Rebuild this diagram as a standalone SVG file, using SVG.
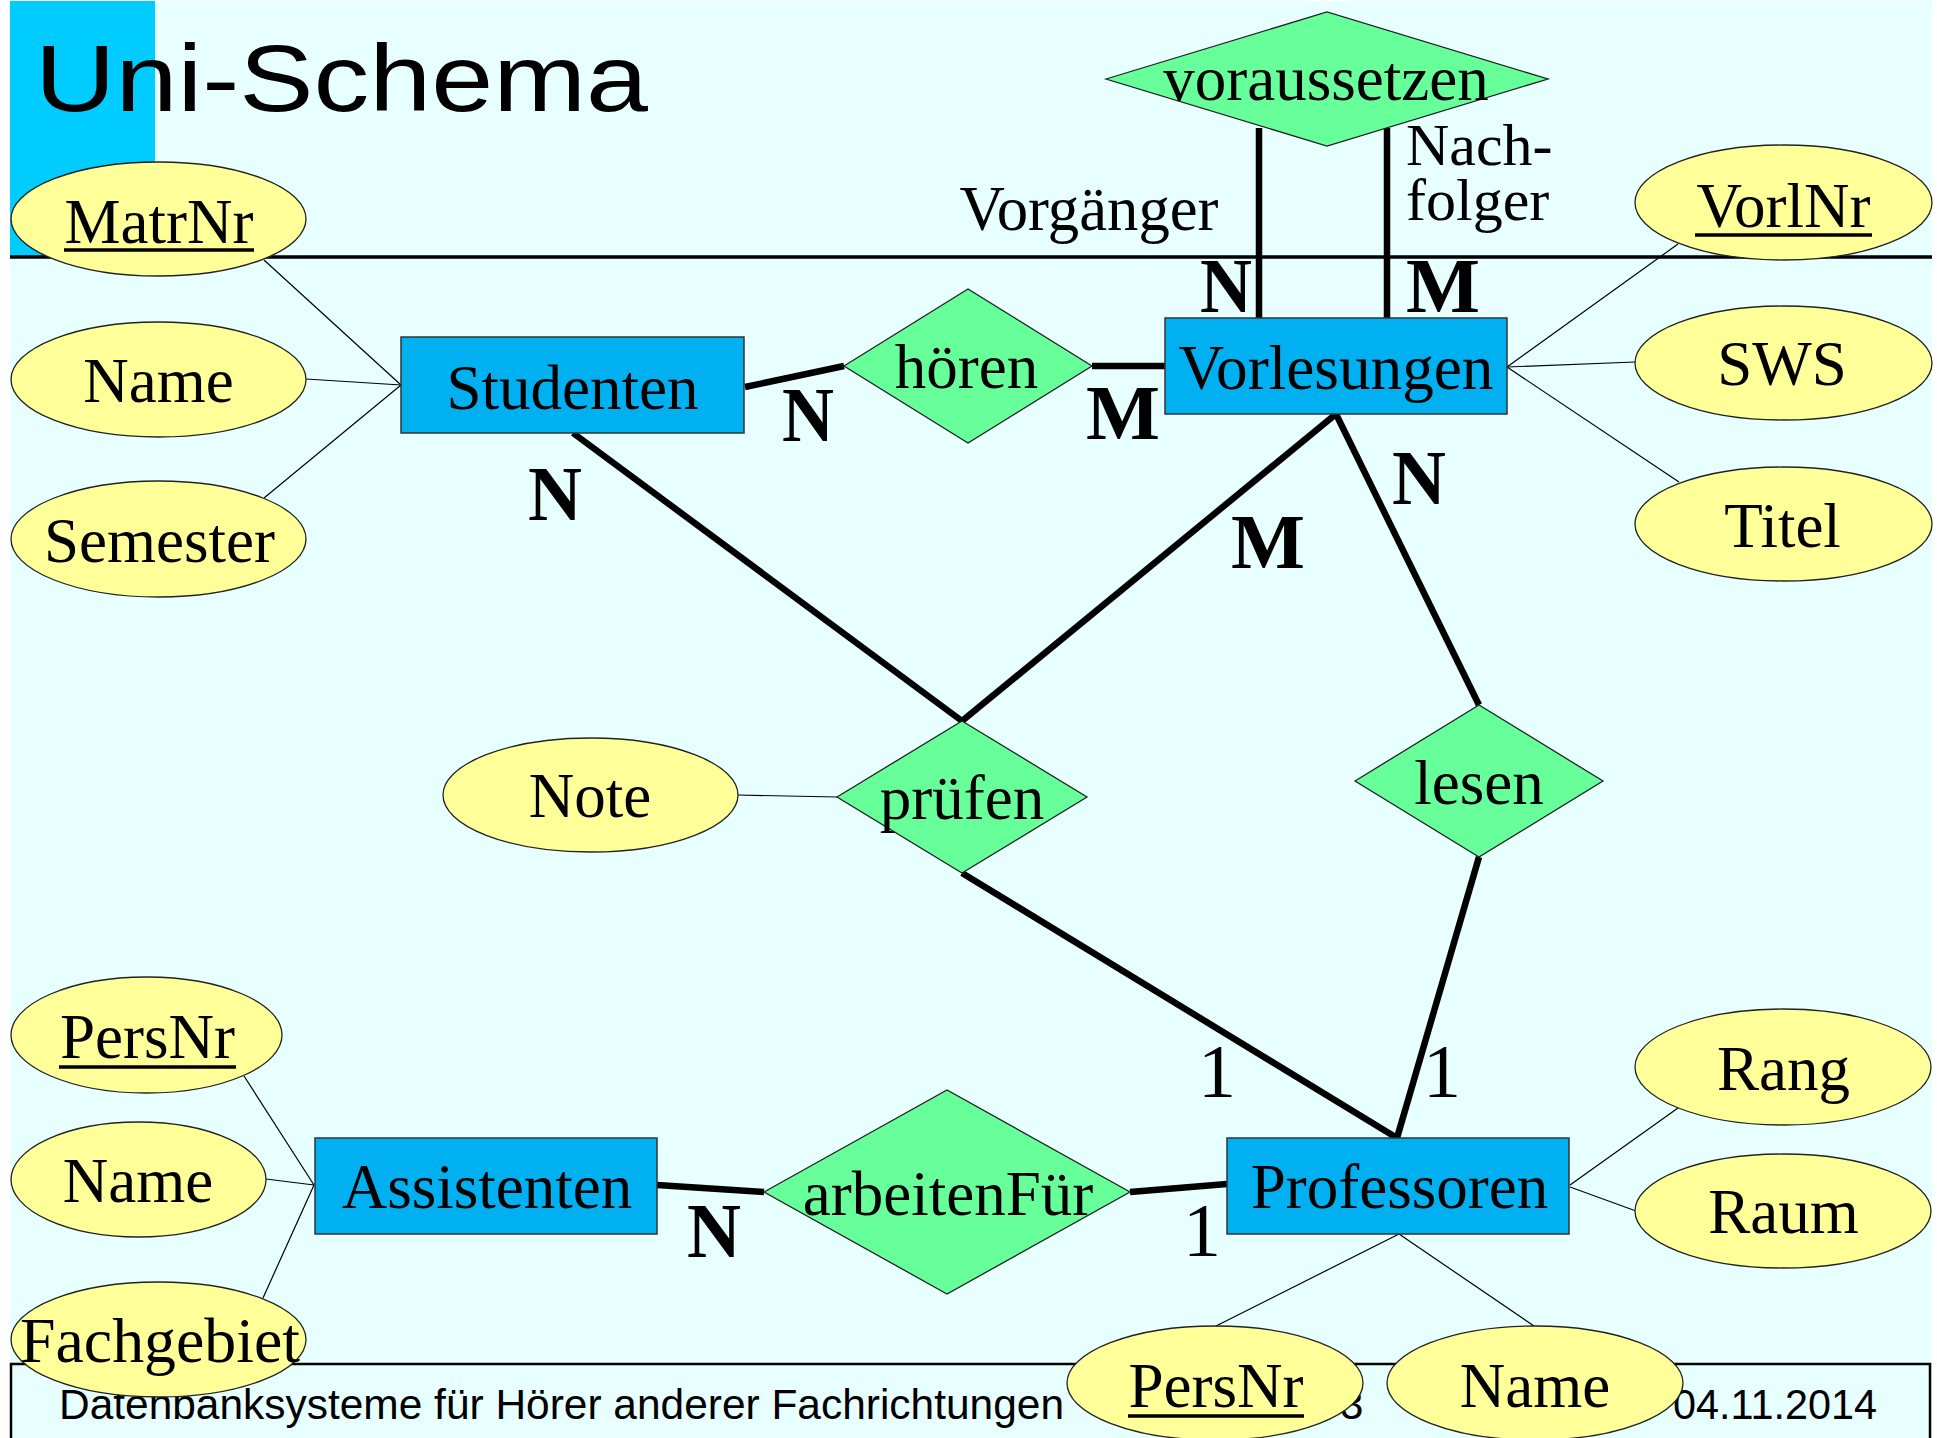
<svg xmlns="http://www.w3.org/2000/svg" width="1937" height="1438" viewBox="0 0 1937 1438">
<defs>
<style>
.ent{fill:#00B0F0;stroke:#333;stroke-width:1.5}
.rel{fill:#66FF99;stroke:#222;stroke-width:1.3}
.att{fill:#FFFF99;stroke:#222;stroke-width:1.3}
.lbl{font-family:"Liberation Serif","Times New Roman",serif;font-size:63px;fill:#000;text-anchor:middle}
.side{font-family:"Liberation Serif","Times New Roman",serif;font-size:60px;fill:#000}
.card{font-family:"Liberation Serif","Times New Roman",serif;font-size:78px;font-weight:bold;fill:#000;text-anchor:middle}
.one{font-family:"Liberation Serif","Times New Roman",serif;font-size:76px;fill:#000;text-anchor:middle}
.thin{stroke:#000;stroke-width:1.2;fill:none}
.thick{stroke:#000;stroke-width:6.5;fill:none}
.ul{stroke:#000;stroke-width:3.5}
.foot{font-family:"Liberation Sans",Arial,sans-serif;font-size:42px;fill:#000}
</style>
</defs>
<rect x="0" y="0" width="1937" height="1438" fill="#FFFFFF"/>
<rect x="10" y="1" width="1922" height="1437" fill="#E8FFFF"/>
<rect x="10" y="1" width="145" height="256" fill="#00CCFF"/>
<line x1="10" y1="257" x2="1932" y2="257" stroke="#000" stroke-width="3.5"/>
<text x="35" y="111" font-family="Liberation Sans, Arial, sans-serif" font-size="95" textLength="613" lengthAdjust="spacingAndGlyphs" fill="#000">Uni-Schema</text>

<g id="footer">
<rect x="11" y="1364" width="1919" height="80" fill="#E8FFFF" stroke="#000" stroke-width="2.5"/>
<text class="foot" x="59" y="1419" textLength="1005" lengthAdjust="spacingAndGlyphs">Datenbanksysteme für Hörer anderer Fachrichtungen</text>
<text class="foot" x="1340" y="1419">3</text>
<text class="foot" x="1673" y="1419" textLength="204" lengthAdjust="spacingAndGlyphs">04.11.2014</text>
</g>

<g id="connectors">
<line class="thin" x1="264" y1="260" x2="401" y2="385"/>
<line class="thin" x1="306" y1="379" x2="401" y2="385"/>
<line class="thin" x1="264" y1="498" x2="401" y2="385"/>
<line class="thin" x1="1507" y1="367" x2="1678" y2="244"/>
<line class="thin" x1="1507" y1="367" x2="1635" y2="362"/>
<line class="thin" x1="1507" y1="367" x2="1679" y2="482"/>
<line class="thin" x1="738" y1="795" x2="837" y2="797"/>
<line class="thin" x1="244" y1="1076" x2="314" y2="1185"/>
<line class="thin" x1="266" y1="1179" x2="314" y2="1185"/>
<line class="thin" x1="263" y1="1298" x2="314" y2="1185"/>
<line class="thin" x1="1570" y1="1185" x2="1678" y2="1108"/>
<line class="thin" x1="1570" y1="1187" x2="1636" y2="1211"/>
<line class="thin" x1="1399" y1="1234" x2="1216" y2="1326"/>
<line class="thin" x1="1399" y1="1234" x2="1534" y2="1326"/>

<line class="thick" x1="745" y1="387" x2="844" y2="366"/>
<line class="thick" x1="1092" y1="366" x2="1165" y2="366"/>
<line class="thick" x1="1259" y1="128" x2="1259" y2="318"/>
<line class="thick" x1="1387" y1="128" x2="1387" y2="318"/>
<line class="thick" x1="573" y1="433" x2="962" y2="721"/>
<line class="thick" x1="1336" y1="414" x2="962" y2="721"/>
<line class="thick" x1="1336" y1="414" x2="1479" y2="705"/>
<line class="thick" x1="1479" y1="857" x2="1397" y2="1138"/>
<line class="thick" x1="962" y1="873" x2="1397" y2="1138"/>
<line class="thick" x1="657" y1="1185" x2="764" y2="1192"/>
<line class="thick" x1="1130" y1="1192" x2="1227" y2="1184"/>

<text class="lbl" x="1089" y="230" textLength="259" lengthAdjust="spacingAndGlyphs">Vorgänger</text>
<text class="side" x="1406" y="165">Nach-<tspan x="1406" y="220">folger</tspan></text>

<text class="card" x="1226" y="312" textLength="52" lengthAdjust="spacingAndGlyphs">N</text>
<text class="card" x="1443" y="312" textLength="74" lengthAdjust="spacingAndGlyphs">M</text>
<text class="card" x="808" y="441" textLength="52" lengthAdjust="spacingAndGlyphs">N</text>
<text class="card" x="1123" y="439" textLength="74" lengthAdjust="spacingAndGlyphs">M</text>
<text class="card" x="555" y="520" textLength="54" lengthAdjust="spacingAndGlyphs">N</text>
<text class="card" x="1268" y="568" textLength="74" lengthAdjust="spacingAndGlyphs">M</text>
<text class="card" x="1419" y="504" textLength="54" lengthAdjust="spacingAndGlyphs">N</text>
<text class="card" x="714" y="1257" textLength="54" lengthAdjust="spacingAndGlyphs">N</text>
<text class="one" x="1202" y="1256">1</text>
<text class="one" x="1217" y="1097">1</text>
<text class="one" x="1442" y="1097">1</text>
</g>

<g id="Studenten">
<rect class="ent" x="401" y="337" width="343" height="96"/>
<text class="lbl" x="572.5" y="409">Studenten</text>
</g>
<g id="Vorlesungen">
<rect class="ent" x="1165" y="318" width="342" height="96"/>
<text class="lbl" x="1336" y="389" textLength="315" lengthAdjust="spacingAndGlyphs">Vorlesungen</text>
</g>
<g id="Assistenten">
<rect class="ent" x="315" y="1138" width="342" height="96"/>
<text class="lbl" x="487" y="1208">Assistenten</text>
</g>
<g id="Professoren">
<rect class="ent" x="1227" y="1138" width="342" height="96"/>
<text class="lbl" x="1399.5" y="1208">Professoren</text>
</g>

<g id="hoeren">
<polygon class="rel" points="844,366 968,289 1092,366 968,443"/>
<text class="lbl" x="966.5" y="388">hören</text>
</g>
<g id="voraussetzen">
<polygon class="rel" points="1106,79 1327,12 1548,79 1327,146"/>
<text class="lbl" x="1326" y="100">voraussetzen</text>
</g>
<g id="pruefen">
<polygon class="rel" points="837,797 962,721 1087,797 962,873"/>
<text class="lbl" x="962" y="819">prüfen</text>
</g>
<g id="lesen">
<polygon class="rel" points="1355,781 1479,705 1603,781 1479,857"/>
<text class="lbl" x="1479" y="804">lesen</text>
</g>
<g id="arbeitenFuer">
<polygon class="rel" points="764,1192 947,1090 1130,1192 947,1294"/>
<text class="lbl" x="948" y="1215">arbeitenFür</text>
</g>

<g id="S_MatrNr">
<ellipse class="att" cx="158.5" cy="219" rx="147.5" ry="57"/>
<text class="lbl" x="159" y="243">MatrNr</text>
<line class="ul" x1="64" y1="250" x2="254" y2="250"/>
</g>
<g id="S_Name">
<ellipse class="att" cx="158.5" cy="379.5" rx="147.5" ry="57.5"/>
<text class="lbl" x="158.5" y="402">Name</text>
</g>
<g id="S_Semester">
<ellipse class="att" cx="158.5" cy="539" rx="147.5" ry="58"/>
<text class="lbl" x="159.5" y="562">Semester</text>
</g>
<g id="V_VorlNr">
<ellipse class="att" cx="1783.5" cy="202.5" rx="148.5" ry="57.5"/>
<text class="lbl" x="1783.5" y="227">VorlNr</text>
<line class="ul" x1="1695" y1="235" x2="1872" y2="235"/>
</g>
<g id="V_SWS">
<ellipse class="att" cx="1783.5" cy="363" rx="148.5" ry="57"/>
<text class="lbl" x="1782" y="385">SWS</text>
</g>
<g id="V_Titel">
<ellipse class="att" cx="1783.5" cy="524" rx="148.5" ry="57"/>
<text class="lbl" x="1782.5" y="547">Titel</text>
</g>
<g id="P_Note">
<ellipse class="att" cx="590.5" cy="795" rx="147.5" ry="57"/>
<text class="lbl" x="590" y="817">Note</text>
</g>
<g id="A_PersNr">
<ellipse class="att" cx="146.5" cy="1035" rx="135.5" ry="58"/>
<text class="lbl" x="147.5" y="1058">PersNr</text>
<line class="ul" x1="59" y1="1067" x2="236" y2="1067"/>
</g>
<g id="A_Name">
<ellipse class="att" cx="138.5" cy="1179.5" rx="127.5" ry="57.5"/>
<text class="lbl" x="138" y="1202">Name</text>
</g>
<g id="A_Fachgebiet">
<ellipse class="att" cx="158.5" cy="1339.5" rx="147.5" ry="57.5"/>
<text class="lbl" x="160" y="1362" textLength="280" lengthAdjust="spacingAndGlyphs">Fachgebiet</text>
</g>
<g id="P_Rang">
<ellipse class="att" cx="1783" cy="1067" rx="148" ry="58"/>
<text class="lbl" x="1783.5" y="1090">Rang</text>
</g>
<g id="P_Raum">
<ellipse class="att" cx="1783" cy="1211" rx="148" ry="57"/>
<text class="lbl" x="1783.5" y="1233">Raum</text>
</g>
<g id="P_PersNr">
<ellipse class="att" cx="1215" cy="1383" rx="148" ry="57"/>
<text class="lbl" x="1216" y="1407">PersNr</text>
<line class="ul" x1="1128" y1="1416" x2="1304" y2="1416"/>
</g>
<g id="P_Name">
<ellipse class="att" cx="1535" cy="1383" rx="148" ry="57"/>
<text class="lbl" x="1535" y="1407">Name</text>
</g>
</svg>
